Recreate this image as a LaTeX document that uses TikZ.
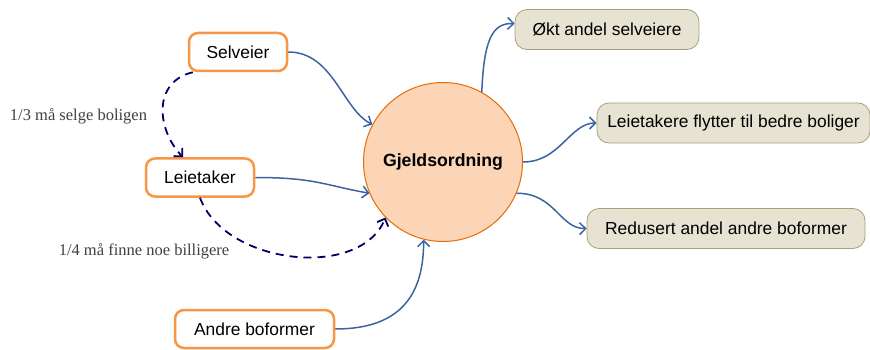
\documentclass[tikz,border=0pt]{standalone}
\usepackage{fontspec}
\setmainfont{Liberation Sans}
\newfontfamily\labelfont{Liberation Serif}
\usetikzlibrary{arrows.meta,calc}
\definecolor{boxorange}{RGB}{247,150,70}
\definecolor{circfill}{RGB}{251,213,181}
\definecolor{circdraw}{RGB}{228,108,10}
\definecolor{beigefill}{RGB}{230,227,210}
\definecolor{beigedraw}{RGB}{170,160,120}
\definecolor{arrblue}{RGB}{60,100,160}
\definecolor{navy}{RGB}{0,0,100}
\definecolor{labgray}{RGB}{64,64,64}
\tikzset{
  orangebox/.style={draw=boxorange, line width=2.5pt, rounded corners=9pt, fill=white,
    minimum height=38pt, inner sep=0pt, font=\fontsize{17.4}{20}\selectfont},
  beigebox/.style={draw=beigedraw, line width=0.8pt, rounded corners=12pt, fill=beigefill,
    minimum height=40pt, inner sep=0pt, font=\fontsize{17.4}{20}\selectfont},
  flow/.style={draw=arrblue, line width=1.5pt, -{Straight Barb[length=6pt,width=12pt]}},
  dflow/.style={draw=navy, line width=1.8pt, dash pattern=on 8pt off 6pt, -{Straight Barb[length=6pt,width=12pt]}},
  lab/.style={font=\labelfont\fontsize{16.5}{19}\selectfont, text=labgray, anchor=base, inner sep=0pt}
}
\begin{document}
\begin{tikzpicture}[x=1pt,y=-1pt]
\useasboundingbox (0,0) rectangle (870,350);
% nodes
\node[circle, draw=circdraw, line width=1pt, fill=circfill, minimum size=159pt, inner sep=0pt,
  font=\bfseries\fontsize{17.7}{20}\selectfont] (gj) at (443,162) {Gjeldsordning};
\node[orangebox, minimum width=98pt] (sel) at (238,52) {Selveier};
\node[orangebox, minimum width=108pt] (lei) at (200,177.5) {Leietaker};
\node[orangebox, minimum width=159pt] (andre) at (254.5,329) {Andre boformer};
\node[beigebox, minimum width=184pt] (okt) at (607,29.5) {Økt andel selveiere};
\node[beigebox, minimum width=273pt] (flytt) at (733.5,123) {Leietakere flytter til bedre boliger};
\node[beigebox, minimum width=278pt] (red) at (726,228.5) {Redusert andel andre boformer};
\node[lab] (lab1) at (78.5,121) {1/3 må selge boligen};
\node[lab] (lab2) at (144,255) {1/4 må finne noe billigere};
% incoming
\draw[flow] (sel.east) .. controls +(45,0) and +(-30,-15) .. (gj.152);
\draw[flow] (lei.east) .. controls +(60,0) and +(-45,-8) .. (gj.203);
\draw[flow] (andre.east) .. controls +(70,0) and +(0,50) .. (gj.256);
% dashed
\draw[dflow] ($(sel.south west)+(5,0)$) .. controls (152,82) and (157,130) .. ($(lei.north)+(-17,0)$);
\draw[dflow] (lei.south) .. controls (225,265) and (360,280) .. (gj.224);
% outgoing
\draw[flow] (gj.61) .. controls (484,40) and (492,23) .. ($(okt.west)+(0,-6)$);
\draw[flow] (gj.0) .. controls (560,162) and (570,123) .. (flytt.west);
\draw[flow] (gj.-23) .. controls (555,193) and (560,229) .. (red.west);
\end{tikzpicture}
\end{document}
